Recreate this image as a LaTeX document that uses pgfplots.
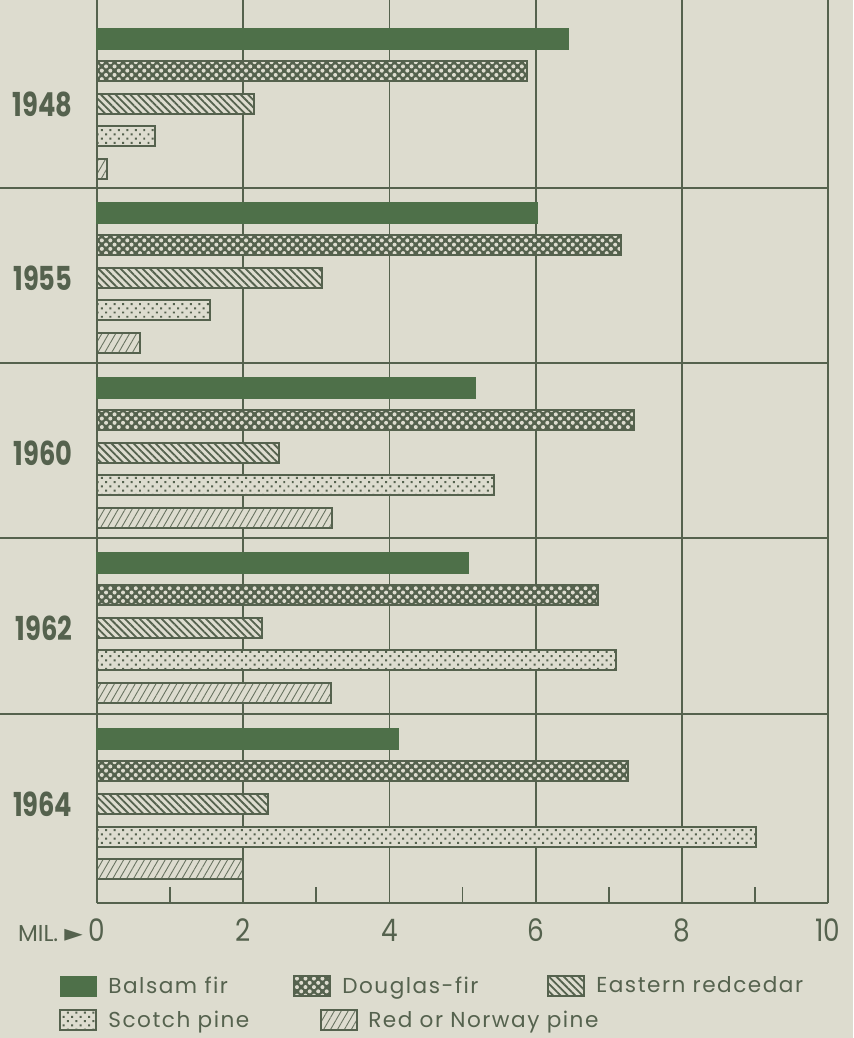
\documentclass[border=0pt]{standalone}
\usepackage{fontspec}
\setmainfont{Poppins}
\newfontfamily\dejavu{DejaVu Sans}
\newfontfamily\legfont[LetterSpace=7]{Poppins}
\usepackage{graphicx}
\usepackage{pgfplots}
\pgfplotsset{compat=1.18}
\usetikzlibrary{patterns.meta}
\definecolor{bg}{RGB}{221,220,207}
\definecolor{lc}{RGB}{85,98,78}
\definecolor{gf}{RGB}{78,112,73}
\newcommand{\yl}[1]{\scalebox{0.78}[1]{\bfseries #1}}
\newcommand{\xl}[1]{\scalebox{0.85}[1]{#1}}
\begin{document}
\begin{tikzpicture}
\path[fill=bg, use as bounding box] (-48.5pt,-67.5pt) rectangle (378pt,451.5pt);
\begin{axis}[
  at={(0,0)}, anchor=south west,
  scale only axis, width=365.5pt, height=451.5pt,
  xmin=0, xmax=10, ymin=0, ymax=903,
  axis x line*=bottom, axis y line*=left,
  axis line style={lc, line width=1.2pt, -},
  xtick={0,2,4,6,8,10},
  xticklabels={{\llap{\fontsize{11.5}{12}\selectfont MIL.\hspace{3pt}{\dejavu\fontsize{12}{12}\selectfont ►}\hspace{3pt}}\xl{0}},\xl{2},\xl{4},\xl{6},\xl{8},\xl{10}},
  xticklabel style={font=\fontsize{15.5}{15.5}\selectfont, text=lc, yshift=-4.5pt},
  minor xtick={1,3,5,7,9},
  xmajorgrids, major grid style={lc, line width=0.9pt},
  major x tick style={draw=none},
  minor tick length=8pt, tick align=inside,
  minor x tick style={lc, line width=0.9pt},
  ytick={799,625,450,275,99},
  yticklabels={\yl{1948},\yl{1955},\yl{1960},\yl{1962},\yl{1964}},
  yticklabel style={font=\fontsize{16.5}{16.5}\selectfont, text=lc, xshift=-4.5pt},
  y tick style={draw=none},
  xbar, bar width=20, bar shift=0pt,
  clip=false,
  legend columns=3,
  legend style={at={(axis description cs:-0.0602,-0.0753)}, anchor=north west, draw=none, fill=none,
    font=\legfont\fontsize{10.8}{12}\selectfont, text=lc,
    nodes={inner sep=0pt},
    /tikz/every odd column/.append style={column sep=5.5pt},
    /tikz/every even column/.append style={column sep=22pt},
    row sep=6pt},
  legend cell align=left,
  sw/.style={legend image code/.code={\draw[##1] (0pt,-5pt) rectangle (18pt,5pt);}},
  swr/.style={legend image code/.code={\draw[##1, overlay] (13.5pt,-5pt) rectangle (31.5pt,5pt);}},
]
\addplot[sw, draw=gf, fill=gf, line width=0.8pt] coordinates {(6.44,864) (6.02,690) (5.17,515) (5.08,340) (4.12,164)};
\addlegendentry{Balsam fir}
\addplot[sw, draw=lc, fill=lc, line width=1pt,
  postaction={pattern={Dots[distance=3pt, angle=45, radius=1.0pt]}, pattern color=bg}]
  coordinates {(5.88,831.5) (7.17,657.5) (7.35,482.5) (6.85,307.5) (7.26,131.5)};
\addlegendentry{\makebox[80.5pt][l]{Douglas-fir}}
\addplot[sw, draw=lc, fill=bg, line width=1pt,
  postaction={pattern={Lines[angle=-45, distance=2.6pt, line width=0.9pt]}, pattern color=lc}]
  coordinates {(2.15,799) (3.08,625) (2.49,450) (2.26,275) (2.34,99)};
\addlegendentry{Eastern redcedar}
\addplot[sw, draw=lc, fill=bg, line width=1pt,
  postaction={pattern={Dots[distance=3pt, angle=45, radius=0.7pt]}, pattern color=lc}]
  coordinates {(0.79,766.5) (1.55,592.5) (5.43,417.5) (7.10,242.5) (9.01,66.5)};
\addlegendentry{Scotch pine}
\addplot[swr, draw=lc, fill=bg, line width=1pt,
  postaction={pattern={Lines[angle=60, distance=3pt, line width=0.45pt]}, pattern color=lc!85!bg}]
  coordinates {(0.14,734) (0.59,560) (3.21,385) (3.20,210) (2.00,34)};
\addlegendentry{\hspace*{13pt}\rlap{Red or Norway pine}}
\pgfplotsinvokeforeach{715,540,365,189}{
  \draw[lc, line width=0.9pt] (axis cs:-1.327,#1) -- (axis cs:10,#1);
}
\end{axis}
\end{tikzpicture}
\end{document}
